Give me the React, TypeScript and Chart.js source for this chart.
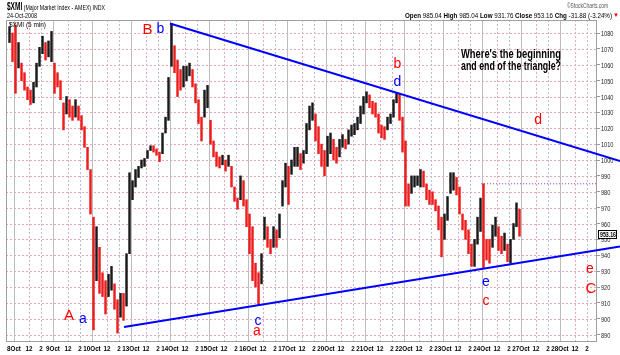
import React, { useEffect, useRef } from 'react';
import { Chart, registerables } from 'chart.js';

Chart.register(...registerables);

// ---------------- data ----------------
const dayLabels = ['8Oct', '9Oct', '10Oct', '13Oct', '14Oct', '15Oct', '16Oct', '17Oct', '20Oct', '21Oct', '22Oct', '23Oct', '24Oct', '27Oct', '28Oct'];
const intradayOffsets = [0, 5, 9];          // 9:30, 12:00, 14:00 in 30-min bars
const intradayLabels = ['', '12', '2'];
const BARS_PER_DAY = 13;
const FIRST_BAR = -2;                       // last hour of 7 Oct
const X_MIN = -2.67;
const X_MAX = 194.33;
const Y_MIN = 886;
const Y_MAX = 1088.2;
const priceTicks = [890, 900, 910, 920, 930, 940, 950, 960, 970, 980, 990, 1000, 1010, 1020, 1030, 1040, 1050, 1060, 1070, 1080];

// 30-minute highs / lows
const barHigh = [
  1084, 1080,
  1085, 1074, 1061, 1055, 1046, 1044, 1049, 1061, 1071, 1078, 1074, 1075, 1081,
  1061, 1055, 1050, 1036, 1040, 1038, 1034, 1038, 1034, 1028, 1021, 1008, 994,
  964, 958, 945, 929, 924, 928, 933, 922, 912, 916, 916, 941, 992,
  987, 994, 996, 1000, 1001, 1006, 1009, 1009, 1007, 1005, 1017, 1027, 1052,
  1086, 1072, 1063, 1057, 1059, 1059, 1061, 1057, 1048, 1038, 1027, 1044, 1047,
  1025, 1012, 1005, 1002, 1003, 1000, 1003, 996, 983, 976, 990, 987, 975,
  966, 958, 935, 929, 941, 964, 958, 950, 958, 956, 966, 987, 998,
  996, 1000, 1008, 1008, 1004, 1006, 1023, 1034, 1036, 1029, 1021, 1010, 1006,
  1015, 1017, 1013, 1008, 1013, 1016, 1013, 1019, 1022, 1023, 1027, 1034, 1040,
  1043, 1041, 1037, 1036, 1029, 1022, 1021, 1027, 1029, 1038, 1042, 1042, 1027,
  1012, 985, 990, 990, 990, 994, 993, 985, 981, 980, 975, 971, 964,
  966, 977, 992, 992, 989, 983, 966, 962, 956, 947, 950, 964, 976,
  985.04, 950, 950, 959, 964, 958, 952, 954, 947, 950, 960, 973, 969,
];
const barLow = [
  1074, 1062,
  1042, 1058, 1050, 1044, 1038, 1035, 1036, 1046, 1059, 1067, 1063, 1065, 1062,
  1042, 1046, 1038, 1019, 1029, 1027, 1025, 1027, 1025, 1019, 1008, 994, 966,
  893, 924, 916, 914, 903, 914, 918, 906, 891, 901, 899, 908, 941,
  975, 983, 989, 995, 996, 1001, 1006, 1005, 1003, 999, 1004, 1017, 1025,
  1059, 1055, 1040, 1044, 1046, 1050, 1053, 1046, 1036, 1023, 1012, 1027, 1033,
  1010, 1002, 996, 995, 997, 993, 996, 983, 974, 969, 975, 971, 958,
  941, 924, 920, 909, 922, 950, 945, 941, 945, 945, 951, 971, 983,
  972, 991, 996, 996, 994, 998, 1004, 1019, 1025, 1012, 1004, 996, 990,
  996, 1004, 1000, 998, 1002, 1008, 1007, 1010, 1015, 1016, 1019, 1023, 1029,
  1036, 1033, 1029, 1027, 1017, 1014, 1013, 1019, 1023, 1027, 1036, 1025, 1005,
  971, 971, 979, 983, 984, 983, 983, 975, 972, 972, 968, 956, 939,
  950, 962, 979, 981, 978, 966, 956, 950, 941, 933, 933, 947, 955,
  931.76, 937, 935, 945, 952, 943, 941, 943, 936, 935, 950, 958, 952,
];

const quoteNames = ['Open', 'High', 'Low', 'Close', 'Chg'];
const quoteValues = ['985.04', '985.04', '931.76', '953.16', '-31.88 (-3.24%)'];
const dayHigh = 985.04;
const lastClose = 953.16;
const highMarkerStart = 155.7;

const upperTrend = [{ x: 52, y: 1086 }, { x: 202, y: 999.4 }];
const lowerTrend = [{ x: 36.67, y: 894.8 }, { x: 202, y: 945.6 }];

const waveLabels = [
  { text: 'B', bar: 44.5, price: 1081.9, color: 'red' },
  { text: 'b', bar: 48.8, price: 1082.5, color: 'blue' },
  { text: 'A', bar: 18.3, price: 901.7, color: 'red' },
  { text: 'a', bar: 23.0, price: 899.8, color: 'blue' },
  { text: 'c', bar: 81.3, price: 898.6, color: 'blue' },
  { text: 'a', bar: 81.0, price: 892.3, color: 'red' },
  { text: 'b', bar: 127.8, price: 1060.5, color: 'red' },
  { text: 'd', bar: 127.8, price: 1049.1, color: 'blue' },
  { text: 'e', bar: 157.3, price: 923.2, color: 'blue' },
  { text: 'c', bar: 157.3, price: 911.2, color: 'red' },
  { text: 'd', bar: 174.7, price: 1025.2, color: 'red' },
  { text: 'e', bar: 192.0, price: 931.5, color: 'red' },
  { text: 'C', bar: 192.3, price: 919.0, color: 'red' },
];
const questionLines = ["Where's the beginning", 'and end of the triangle?'];
const questionAnchor = { bar: 149, price: [1064.3, 1056.7] };

const titleSymbol = '$XMI';
const titleDesc = ' (Major Market Index - AMEX) INDX';
const titleDate = '24-Oct-2008';
const copyright = '\u00a9StockCharts.com';
const legendText = '$XMI (5 min)';

// ---------------- drawing helpers ----------------
const SANS = "'Liberation Sans',Arial,sans-serif";
const RED = '#ff0000';
const BLUE = '#0000ff';

type Run = { text: string; font: string; color: string };

function drawRuns(ctx: CanvasRenderingContext2D, runs: Run[], x: number, y: number, width: number, align: 'left' | 'right' | 'center') {
  let total = 0;
  for (const r of runs) {
    ctx.font = r.font;
    total += ctx.measureText(r.text).width;
  }
  const sx = width / total;
  ctx.save();
  ctx.textBaseline = 'alphabetic';
  ctx.textAlign = 'left';
  const left = align === 'right' ? x - width : align === 'center' ? x - width / 2 : x;
  ctx.translate(left, y);
  ctx.scale(sx, 1);
  let cx = 0;
  for (const r of runs) {
    ctx.font = r.font;
    ctx.fillStyle = r.color;
    ctx.fillText(r.text, cx, 0);
    cx += ctx.measureText(r.text).width;
  }
  ctx.restore();
}

function measure(ctx: CanvasRenderingContext2D, text: string, font: string) {
  ctx.font = font;
  return ctx.measureText(text).width;
}

function xLabel(v: number) {
  const k = Math.floor(v / BARS_PER_DAY);
  const o = v - k * BARS_PER_DAY;
  const idx = intradayOffsets.indexOf(o);
  return idx === 0 ? dayLabels[k] : intradayLabels[idx];
}

const gridPlugin = {
  id: 'customGrid',
  beforeDatasetsDraw(chart: any) {
    const { ctx, chartArea: a, scales } = chart;
    const x = scales.x;
    const y = scales.y;
    ctx.save();
    ctx.lineWidth = 1;
    ctx.strokeStyle = '#e6a9b6';
    ctx.setLineDash([2, 2]);
    for (const t of y.ticks) {
      const py = Math.round(y.getPixelForValue(t.value)) + 0.5;
      ctx.beginPath();
      ctx.moveTo(a.left, py);
      ctx.lineTo(a.right, py);
      ctx.stroke();
    }
    for (const t of x.ticks) {
      const off = ((t.value % BARS_PER_DAY) + BARS_PER_DAY) % BARS_PER_DAY;
      const px = Math.round(x.getPixelForValue(t.value)) + 0.5;
      if (off === 0) {
        ctx.setLineDash([]);
        ctx.strokeStyle = '#bdbdbd';
      } else {
        ctx.setLineDash([2, 2]);
        ctx.strokeStyle = off === 5 ? '#e6a9b6' : '#b9b9e0';
      }
      ctx.beginPath();
      ctx.moveTo(px, a.top);
      ctx.lineTo(px, a.bottom);
      ctx.stroke();
    }
    ctx.setLineDash([]);
    ctx.strokeStyle = '#a0a0a0';
    ctx.strokeRect(a.left + 0.5, a.top + 0.5, a.right - a.left - 1, a.bottom - a.top);
    ctx.restore();
  },
  afterDatasetsDraw(chart: any) {
    const { ctx, chartArea: a, scales } = chart;
    const x = scales.x;
    const y = scales.y;
    ctx.save();
    ctx.textAlign = 'center';
    ctx.textBaseline = 'middle';
    for (const l of waveLabels) {
      const upper = l.text === l.text.toUpperCase();
      ctx.font = (upper ? '15px ' : '14px ') + SANS;
      ctx.fillStyle = l.color === 'red' ? RED : BLUE;
      ctx.fillText(l.text, x.getPixelForValue(l.bar), y.getPixelForValue(l.price));
    }
    questionLines.forEach((line, i) => {
      drawRuns(ctx, [{ text: line, font: 'bold 12px ' + SANS, color: '#000' }],
        x.getPixelForValue(questionAnchor.bar), y.getPixelForValue(questionAnchor.price[i]), 100, 'left');
    });
    drawRuns(ctx, [{ text: legendText, font: '8px ' + SANS, color: '#000' }], a.left + 3, a.top + 7, 37, 'left');
    ctx.restore();
  },
  afterDraw(chart: any) {
    const { ctx, chartArea: a, scales } = chart;
    const x = scales.x;
    const y = scales.y;
    ctx.save();
    const xf = 'bold 8px ' + SANS;
    for (const t of x.ticks) {
      const txt = xLabel(t.value);
      const w = measure(ctx, txt, xf) * 0.78;
      drawRuns(ctx, [{ text: txt, font: xf, color: '#000' }], x.getPixelForValue(t.value), a.bottom + 10, w, 'center');
    }
    const yf = '7px ' + SANS;
    for (const t of y.ticks) {
      const txt = String(t.value);
      const w = measure(ctx, txt, yf) * 0.8;
      drawRuns(ctx, [{ text: txt, font: yf, color: '#222' }], a.right + 4, Math.round(y.getPixelForValue(t.value)) + 3, w, 'left');
    }
    drawRuns(ctx, [
      { text: titleSymbol, font: 'bold 10px ' + SANS, color: '#000' },
      { text: titleDesc, font: '8px ' + SANS, color: '#000' },
    ], 7, 10, 98, 'left');
    drawRuns(ctx, [{ text: titleDate, font: '8px ' + SANS, color: '#000' }], 7, 18, 30, 'left');
    drawRuns(ctx, [{ text: copyright, font: '8px ' + SANS, color: '#555' }], 608, 8, 41, 'right');
    const runs: Run[] = [];
    quoteNames.forEach((n, i) => {
      runs.push({ text: (i ? ' ' : '') + n, font: 'bold 8px ' + SANS, color: '#000' });
      runs.push({ text: ' ' + quoteValues[i], font: '8px ' + SANS, color: '#000' });
    });
    drawRuns(ctx, runs, 612, 18, 207, 'right');
    ctx.fillStyle = RED;
    ctx.font = '6px ' + SANS;
    ctx.textAlign = 'left';
    ctx.fillText('\u25bc', 613, 17);
    const py = Math.round(y.getPixelForValue(lastClose));
    ctx.fillStyle = '#fff';
    ctx.fillRect(a.right + 1, py - 4, 19, 9);
    ctx.strokeStyle = '#000';
    ctx.lineWidth = 1;
    ctx.strokeRect(a.right + 1.5, py - 3.5, 18, 8);
    drawRuns(ctx, [{ text: lastClose.toFixed(2), font: 'bold 8px ' + SANS, color: '#000' }], a.right + 3, py + 3, 16, 'left');
    ctx.restore();
  },
};

export default function App() {
  const ref = useRef<HTMLCanvasElement | null>(null);

  useEffect(() => {
    document.body.style.margin = '0';
    const canvas = ref.current;
    if (!canvas) return;

    const candles = barHigh.map((h, i) => ({ x: FIRST_BAR + i + 0.5, y: [barLow[i], h] }));
    const colors = barHigh.map((h, i) => {
      const mid = (h + barLow[i]) / 2;
      const prev = i > 0 ? (barHigh[i - 1] + barLow[i - 1]) / 2 : mid;
      return mid >= prev ? '#1a1a1a' : '#ee1c1c';
    });

    const chart = new Chart(canvas, {
      type: 'bar',
      data: {
        datasets: [
          {
            type: 'line', data: upperTrend, borderColor: BLUE, borderWidth: 2, pointRadius: 0,
            clip: { left: 0, top: 0, right: 30, bottom: 0 }, order: 0,
          } as any,
          {
            type: 'line', data: lowerTrend, borderColor: BLUE, borderWidth: 2, pointRadius: 0,
            clip: { left: 0, top: 0, right: 30, bottom: 0 }, order: 0,
          } as any,
          {
            type: 'line', data: [{ x: highMarkerStart, y: dayHigh }, { x: X_MAX, y: dayHigh }],
            borderColor: '#993399', borderWidth: 1, borderDash: [1, 2], pointRadius: 0, order: 0,
          } as any,
          {
            type: 'bar', data: candles, backgroundColor: colors, barThickness: 1.8, grouped: false, order: 1,
          } as any,
        ],
      },
      options: {
        responsive: false,
        animation: false,
        devicePixelRatio: 1,
        layout: { padding: { left: 6, top: 20, right: 0, bottom: 0 } },
        plugins: { legend: { display: false }, tooltip: { enabled: false } },
        elements: { line: { tension: 0 } },
        scales: {
          x: {
            type: 'linear',
            min: X_MIN,
            max: X_MAX,
            offset: false,
            grid: { display: false },
            border: { display: false },
            afterBuildTicks: (scale: any) => {
              const ticks: any[] = [];
              dayLabels.forEach((_, k) => {
                intradayOffsets.forEach((o) => {
                  const v = k * BARS_PER_DAY + o;
                  if (v >= X_MIN && v <= X_MAX) ticks.push({ value: v });
                });
              });
              scale.ticks = ticks;
            },
            afterFit: (scale: any) => { scale.height = 14; },
            ticks: { display: false, autoSkip: false, maxRotation: 0, callback: (v: any) => xLabel(Number(v)) },
          },
          y: {
            type: 'linear',
            position: 'right',
            min: Y_MIN,
            max: Y_MAX,
            grid: { drawOnChartArea: false, drawTicks: true, tickLength: 3, color: '#999' },
            border: { display: false },
            afterBuildTicks: (scale: any) => {
              scale.ticks = priceTicks.map((v) => ({ value: v }));
            },
            afterFit: (scale: any) => { scale.width = 23; },
            ticks: { display: false, callback: (v: any) => String(v) },
          },
        },
      } as any,
      plugins: [gridPlugin],
    });

    return () => chart.destroy();
  }, []);

  return (
    <div style={{ position: 'absolute', left: 0, top: 0, width: 620, height: 355, background: '#fff' }}>
      <canvas ref={ref} width={620} height={355} style={{ display: 'block', width: 620, height: 355 }} />
    </div>
  );
}
